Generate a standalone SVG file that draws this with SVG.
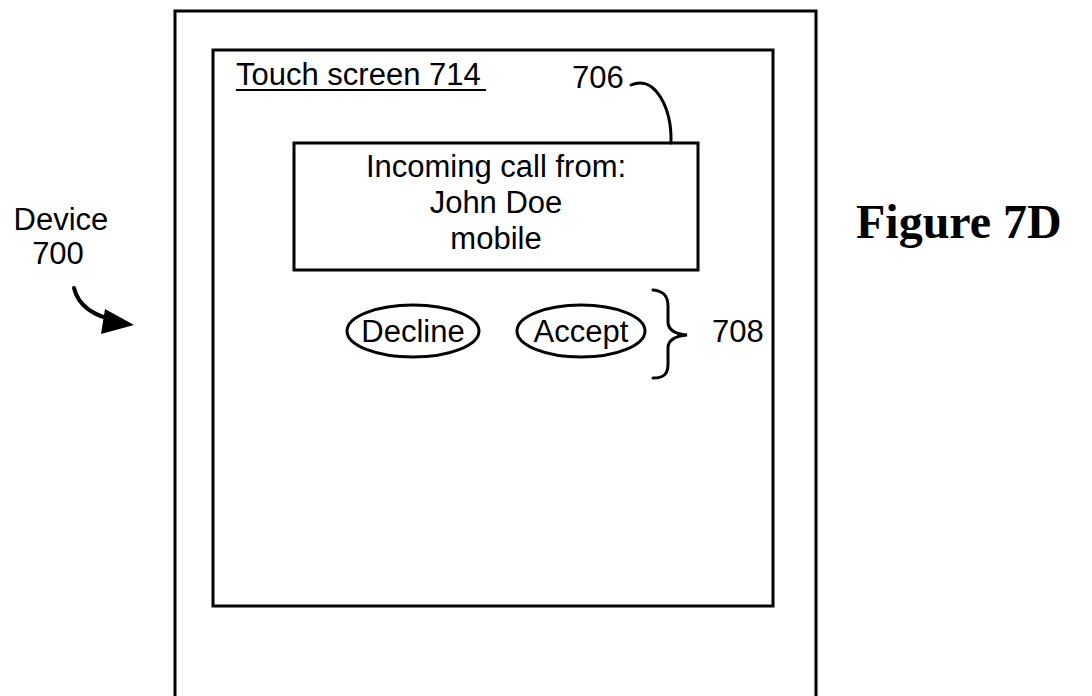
<svg xmlns="http://www.w3.org/2000/svg" width="1092" height="696" viewBox="0 0 1092 696">
<style>
.t{font-family:"Liberation Sans",Arial,sans-serif;font-size:31px;fill:#000}
.box{fill:none;stroke:#000;stroke-width:3}
.ln{fill:none;stroke:#000;stroke-width:3;stroke-linecap:round}
</style>
<rect width="1092" height="696" fill="#fff"/>
<g id="device">
<path class="box" d="M175,700 L175,11 L816,11 L816,700"/>
</g>
<g id="touchscreen">
<rect class="box" x="213" y="50" width="560" height="556"/>
<text class="t" x="236" y="85">Touch screen 714</text>
<line x1="236" y1="90" x2="486" y2="90" stroke="#000" stroke-width="2"/>
</g>
<g id="callbox">
<rect class="box" x="294" y="143" width="404" height="127"/>
<text class="t" x="496" y="177" text-anchor="middle">Incoming call from:</text>
<text class="t" x="496" y="213" text-anchor="middle">John Doe</text>
<text class="t" x="496" y="249" text-anchor="middle">mobile</text>
</g>
<g id="decline">
<ellipse class="box" cx="413" cy="331" rx="66" ry="26"/>
<text class="t" x="413" y="342" text-anchor="middle">Decline</text>
</g>
<g id="accept">
<ellipse class="box" cx="581" cy="331" rx="64" ry="26"/>
<text class="t" x="581" y="342" text-anchor="middle">Accept</text>
</g>
<g id="labels">
<text class="t" x="61" y="230" text-anchor="middle">Device</text>
<text class="t" x="58" y="264" text-anchor="middle">700</text>
<text class="t" x="572" y="88">706</text>
<text class="t" x="712" y="342">708</text>
<text x="856" y="238" font-family="'Liberation Serif','Times New Roman',serif" font-weight="bold" font-size="48">Figure 7D</text>
</g>
<g id="connectors">
<path class="ln" d="M631,85 C656,74 672,110 671,143"/>
<path class="ln" d="M653,290 C664,291 668,296 668,306 L668,322 C668,330 676,334 687,335 C676,336 668,340 668,348 L668,364 C668,374 664,378 653,378"/>
<path d="M74,288 C78,305 92,316 118,321" fill="none" stroke="#000" stroke-width="4" stroke-linecap="round"/>
<path d="M105,309 L134,325 L101,334 z" fill="#000"/>
</g>
</svg>
